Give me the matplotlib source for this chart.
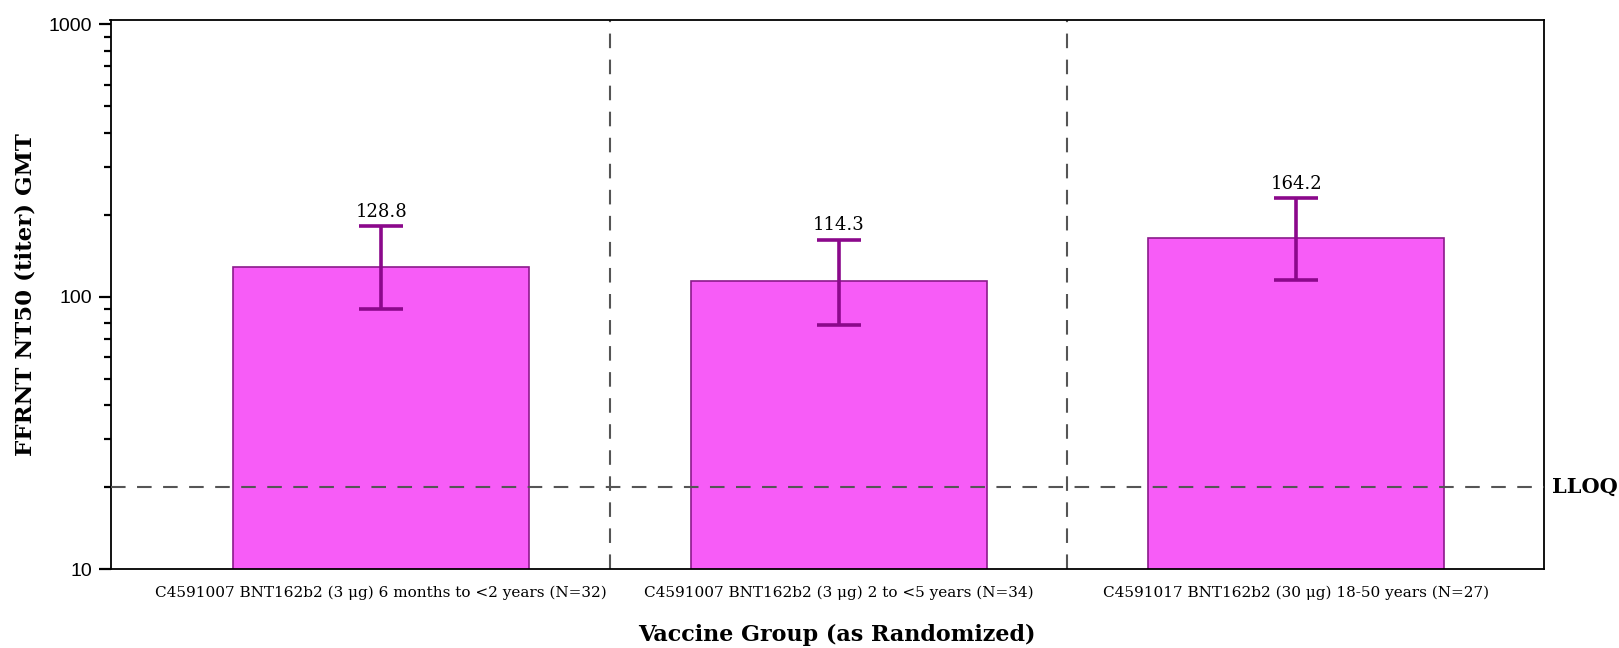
import matplotlib
matplotlib.use("Agg")
import matplotlib.pyplot as plt
import numpy as np

# datos
grupos = ["C4591007 BNT162b2 (3 \u03bcg) 6 months to <2 years (N=32)",
          "C4591007 BNT162b2 (3 \u03bcg) 2 to <5 years (N=34)",
          "C4591017 BNT162b2 (30 \u03bcg) 18-50 years (N=27)"]
gmt = [128.8, 114.3, 164.2]
ic_inf = [89.7, 78.7, 115.5]
ic_sup = [181.5, 162.0, 229.6]
lloq = 20

plt.rcParams['font.family'] = ['DejaVu Serif', 'Liberation Serif']

fig = plt.figure(figsize=(16.19, 6.48), dpi=100)
ax = fig.add_axes([110.5/1619, 1 - 569/648, (1543.6-110.5)/1619, (569-19.6)/648])

x = np.arange(len(grupos))
ax.bar(x, gmt, width=0.647, bottom=0.001, color="#F75CF7", edgecolor="#8B1A8B", linewidth=1.2, zorder=2)
yerr = [np.array(gmt) - np.array(ic_inf), np.array(ic_sup) - np.array(gmt)]
ax.errorbar(x, gmt, yerr=yerr, fmt="none", ecolor="#8B088B", elinewidth=2.6, capsize=16, capthick=2.6, zorder=3)
for xi, g, s in zip(x, gmt, ic_sup):
    ax.annotate(f"{g:.1f}", (xi, s), xytext=(0, 4), textcoords="offset points",
                ha="center", va="bottom", fontsize=13)

ax.set_yscale("log")
ax.set_ylim(10, 1040)
ax.set_xlim(-0.592, 2.541)

ax.axhline(lloq, color="#555555", linestyle=(0, (7, 5.5)), linewidth=1.5, zorder=4)
for xv in [0.5, 1.5]:
    ax.axvline(xv, color="#555555", linestyle=(0, (7, 5.5)), linewidth=1.5, zorder=1)
ax.text(1.006, lloq, "LLOQ", transform=ax.get_yaxis_transform(), ha="left", va="center",
        fontsize=15, fontweight="bold")

ax.set_yticks([10, 100, 1000])
ax.set_yticklabels(["10", "100", "1000"], fontsize=14, family="Liberation Sans")
ax.tick_params(axis="y", which="major", length=9, width=1.6, direction="out", pad=4)
ax.tick_params(axis="y", which="minor", length=5, width=1.6, direction="out")
ax.set_xticks(x)
ax.set_xticklabels(grupos, fontsize=11)
ax.tick_params(axis="x", length=0, pad=12)

for sp in ax.spines.values():
    sp.set_linewidth(1.3)

ax.set_ylabel("FFRNT NT50 (titer) GMT", fontsize=16.5, fontweight="bold")
ax.yaxis.set_label_coords(-0.059, 0.5)
ax.yaxis.label.set_va("center")
ax.set_xlabel("Vaccine Group (as Randomized)", fontsize=16, fontweight="bold")
ax.xaxis.set_label_coords(0.507, -0.1)
ax.xaxis.label.set_va("top")

fig.savefig("out.png", dpi=100)
